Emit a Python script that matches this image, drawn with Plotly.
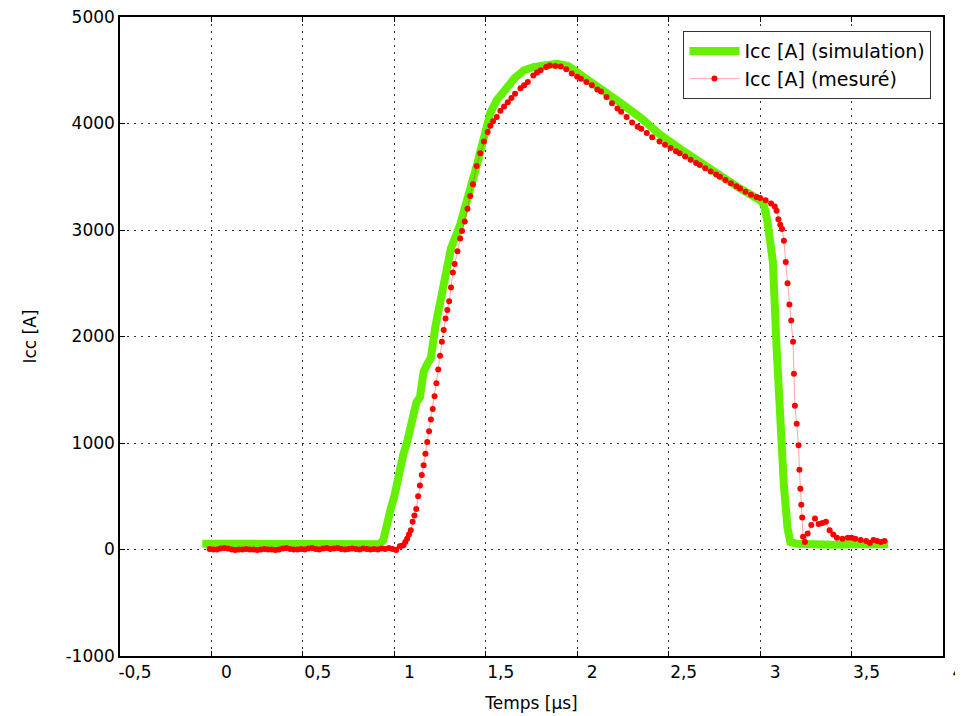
import plotly.graph_objects as go

# Simulation (green)
t_sim = [-0.05, 0.0, 0.2, 0.4, 0.6, 0.8, 0.92, 0.94, 0.96, 0.98, 1.0, 1.03, 1.05, 1.07, 1.10,
         1.12, 1.14, 1.16, 1.18, 1.20, 1.225, 1.26, 1.29, 1.31, 1.36, 1.45, 1.49, 1.525, 1.56,
         1.62, 1.66, 1.71, 1.76, 1.82, 1.89, 1.95, 2.02, 2.13, 2.24, 2.35, 2.45, 2.56,
         2.67, 2.78, 2.89, 3.00, 3.02, 3.04, 3.06, 3.07, 3.09, 3.11, 3.13, 3.15, 3.165,
         3.20, 3.30, 3.40, 3.50, 3.60, 3.70]
i_sim = [55, 55, 55, 52, 55, 50, 50, 90, 260, 380, 500, 760, 900, 1010, 1260,
         1380, 1430, 1670, 1740, 1800, 2100, 2450, 2660, 2830, 3050, 3600, 3900, 4100, 4220,
         4360, 4430, 4500, 4530, 4545, 4560, 4540, 4450, 4330, 4190, 4050, 3900, 3765,
         3640, 3500, 3390, 3280, 3240, 3080, 2800, 2700, 1900, 1200, 600, 200, 70,
         55, 45, 45, 50, 50, 50]

# Measured (red)
t_mes = [-0.01, 0.01, 0.03, 0.05, 0.07, 0.09, 0.11, 0.13, 0.15, 0.17, 0.19, 0.21, 0.23, 0.25,
         0.27, 0.29, 0.31, 0.33, 0.35, 0.37, 0.39, 0.41, 0.43, 0.45, 0.47, 0.49, 0.51, 0.53,
         0.55, 0.57, 0.59, 0.61, 0.63, 0.65, 0.67, 0.69, 0.71, 0.73, 0.75, 0.77, 0.79, 0.81,
         0.83, 0.85, 0.87, 0.89, 0.91, 0.93, 0.95, 0.97, 0.99, 1.01,
         1.03, 1.04, 1.05, 1.06, 1.07, 1.08, 1.09, 1.10, 1.11, 1.12, 1.13, 1.14, 1.15, 1.16,
         1.17, 1.18, 1.19, 1.20, 1.21, 1.22, 1.23, 1.24, 1.25, 1.26, 1.27, 1.28, 1.29, 1.30,
         1.31, 1.32, 1.33, 1.345, 1.36, 1.37, 1.385, 1.40, 1.415, 1.43, 1.45, 1.47, 1.49, 1.51,
         1.525, 1.54, 1.56, 1.58, 1.60, 1.62, 1.64, 1.66, 1.69, 1.71, 1.73, 1.76, 1.78, 1.80,
         1.83, 1.85, 1.88, 1.91, 1.94, 1.97, 2.00, 2.02, 2.05, 2.08, 2.11, 2.13, 2.16, 2.19,
         2.22, 2.24, 2.27, 2.30, 2.33, 2.35, 2.38, 2.41, 2.45, 2.48, 2.51, 2.54, 2.56, 2.59,
         2.62, 2.65, 2.67, 2.70, 2.73, 2.76, 2.78, 2.81, 2.84, 2.87, 2.89, 2.92, 2.95, 2.98,
         3.00, 3.03, 3.06, 3.08, 3.09, 3.10, 3.11, 3.12, 3.13, 3.14, 3.15, 3.16, 3.17, 3.18,
         3.185, 3.19, 3.20, 3.21, 3.215, 3.22, 3.225, 3.23, 3.235, 3.245, 3.26, 3.28, 3.30,
         3.32, 3.34, 3.36, 3.38, 3.40, 3.42, 3.45, 3.48, 3.50, 3.52, 3.55, 3.58, 3.60, 3.62,
         3.64, 3.66, 3.68]
i_mes = [5, 0, 0, 10, 15, 10, 0, -5, 0, 0, 5, 0, 0, -5, 0, 5, 0, 0, -5, 0, 10, 15, 5, 0, 0, 5,
         0, 10, 15, 5, 0, 10, 15, 5, 10, 15, 5, 0, 5, 10, 5, 0, 10, 5, 0, 5, 0, 10, 5, 15, 5, -5,
         30, 35, 40, 70, 100, 140, 180, 260, 320, 380, 500, 600, 700, 790,
         900, 1010, 1110, 1220, 1320, 1440, 1560, 1690, 1820, 1950, 2060, 2170, 2250, 2330,
         2460, 2600, 2680, 2800, 2920, 2990, 3080, 3200, 3320, 3430, 3600, 3720, 3830, 3920,
         3980, 4020, 4060, 4120, 4160, 4200, 4240, 4280, 4330, 4360, 4390, 4450, 4480, 4500,
         4530, 4545, 4540, 4535, 4510, 4470, 4440, 4420, 4390, 4360, 4320, 4300, 4250, 4190,
         4140, 4110, 4060, 4010, 3970, 3950, 3910, 3870, 3830, 3800, 3770, 3740, 3720, 3690,
         3660, 3630, 3610, 3580, 3550, 3520, 3500, 3470, 3440, 3410, 3390, 3360, 3330, 3310,
         3300, 3280, 3250, 3220, 3180, 3100, 3050, 3010, 2900, 2700, 2500, 2300, 2150, 1950,
         1650, 1350, 1180, 980, 750, 570, 420, 300, 120, 70, 150, 230, 290,
         240, 250, 260, 180, 140, 110, 100, 110, 110, 100, 90, 80, 60, 90,
         80, 70, 80]

x_tickvals = [-0.5, 0, 0.5, 1, 1.5, 2, 2.5, 3, 3.5, 4]
x_ticktext = ["-0,5", "0", "0,5", "1", "1,5", "2", "2,5", "3", "3,5", "4"]
y_tickvals = [-1000, 0, 1000, 2000, 3000, 4000, 5000]
y_ticktext = ["-1000", "0", "1000", "2000", "3000", "4000", "5000"]

font_family = "DejaVu Sans"

fig = go.Figure()
fig.add_trace(go.Scatter(
    x=t_sim, y=i_sim, mode="lines", name="Icc [A] (simulation)",
    line=dict(color="rgb(100,240,0)", width=8),
))
fig.add_trace(go.Scatter(
    x=t_mes, y=i_mes, mode="lines+markers", name="Icc [A] (mesuré)",
    line=dict(color="rgba(255,0,0,0.35)", width=1),
    marker=dict(color="rgb(255,0,0)", size=6),
))

axis_common = dict(
    showline=True, linecolor="black", linewidth=1.5, mirror="allticks",
    ticks="inside", ticklen=5, tickcolor="black", tickwidth=1,
    showgrid=True, gridcolor="#333333", griddash="2px,5px", gridwidth=1,
    zeroline=False, automargin=False, ticklabeloverflow="allow",
    tickfont=dict(family=font_family, size=17, color="black"),
)

fig.update_xaxes(
    range=[-0.5, 4], tickvals=x_tickvals, ticktext=x_ticktext,
    ticklabelshift=15,
    title=dict(text="Temps [μs]", font=dict(family=font_family, size=17, color="black"), standoff=16),
    **axis_common,
)
fig.update_yaxes(
    range=[-1000, 5000], tickvals=y_tickvals, ticktext=y_ticktext,
    title=dict(text="Icc [A]", font=dict(family=font_family, size=17, color="black"), standoff=24),
    **axis_common,
)

fig.update_layout(
    width=963, height=716,
    margin=dict(l=112, r=28, t=9, b=68),
    paper_bgcolor="white", plot_bgcolor="white",
    font=dict(family=font_family, size=17, color="black"),
    legend=dict(
        x=0.986, y=0.978, xanchor="right", yanchor="top",
        bgcolor="white", bordercolor="#333333", borderwidth=1,
        font=dict(family=font_family, size=19, color="black"),
        itemwidth=50,
    ),
    showlegend=True,
)

fig.write_html("out.html")
